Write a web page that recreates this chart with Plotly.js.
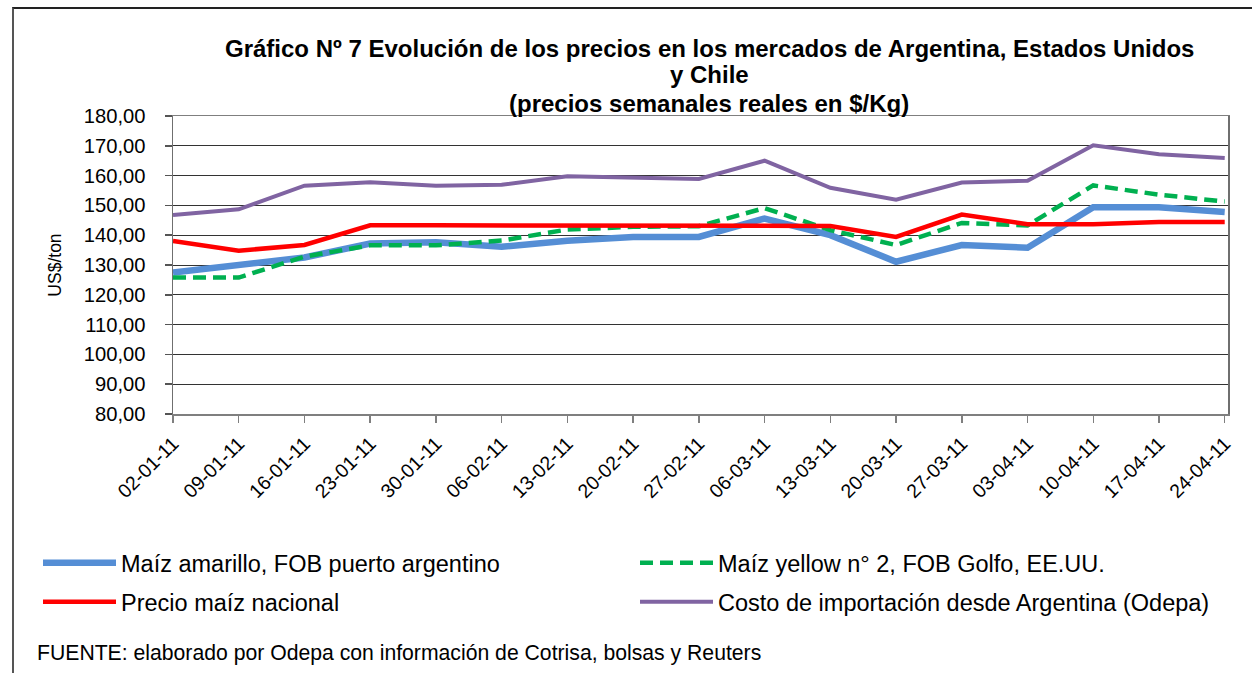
<!DOCTYPE html>
<html>
<head>
<meta charset="utf-8">
<script src="https://cdn.plot.ly/plotly-3.0.1.min.js"></script>
<style>
  html, body { margin: 0; padding: 0; background: #fff; }
  #wrap { position: relative; width: 1252px; height: 673px; }
  #chart { width: 1252px; height: 673px; }
  #frame { position: absolute; left: 12px; top: 7px; right: 0; bottom: 0;
           border-left: 2px solid #555; border-top: 2px solid #222; pointer-events: none; }
</style>
</head>
<body>
<div id="wrap">
  <div id="chart"></div>
  <div id="frame"></div>
</div>
<script>
const fechas = ["02-01-11","09-01-11","16-01-11","23-01-11","30-01-11","06-02-11","13-02-11","20-02-11","27-02-11","06-03-11","13-03-11","20-03-11","27-03-11","03-04-11","10-04-11","17-04-11","24-04-11"];

const maizAmarilloArg = [127.5,129.8,132.5,137.2,137.6,136.1,138.1,139.4,139.4,145.6,140.0,131.1,136.7,135.8,149.4,149.4,147.8];
const maizYellowUSA   = [125.8,125.8,132.8,136.6,136.6,138.2,141.9,142.8,143.0,149.1,141.7,136.7,144.1,143.3,156.7,153.6,151.3];
const precioNacional  = [138.1,134.8,136.7,143.3,143.3,143.3,143.1,143.1,143.1,143.1,143.1,139.4,146.9,143.7,143.7,144.4,144.4];
const costoImportacion= [146.8,148.7,156.6,157.8,156.6,156.9,159.8,159.4,158.9,165.0,155.9,151.9,157.7,158.3,170.2,167.2,165.9];

const nombres = ["Maíz amarillo, FOB puerto argentino","Maíz yellow n° 2, FOB Golfo, EE.UU.","Precio maíz nacional","Costo de importación desde Argentina (Odepa)"];

const tituloLineas = ["Gráfico Nº 7 Evolución de los precios en los mercados de Argentina, Estados Unidos","y Chile","(precios semanales reales en $/Kg)"];
const fuente = "FUENTE: elaborado por Odepa con información de Cotrisa, bolsas y Reuters";

const FONT = "Liberation Sans, Arial, sans-serif";

// plot-area pixel geometry
const L = 173, R = 24, T = 116, B = 259, W = 1252, H = 673;
const PW = W - L - R, PH = H - T - B;
const px = v => (v - L) / PW;
const py = v => (H - B - v) / PH;

const traces = [
  {x: fechas, y: maizAmarilloArg, name: nombres[0], type: "scatter", mode: "lines",
   line: {color: "#558ED5", width: 6.5}, legend: "legend", showlegend: true},
  {x: fechas, y: maizYellowUSA, name: nombres[1], type: "scatter", mode: "lines",
   line: {color: "#00B050", width: 4.5, dash: "13px,7px"}, legend: "legend2", showlegend: true},
  {x: fechas, y: precioNacional, name: nombres[2], type: "scatter", mode: "lines",
   line: {color: "#FF0000", width: 4.5}, legend: "legend3", showlegend: true},
  {x: fechas, y: costoImportacion, name: nombres[3], type: "scatter", mode: "lines",
   line: {color: "#8064A2", width: 4}, legend: "legend4", showlegend: true}
];

function leg(xpx, ypx) {
  return {
    visible: true,
    orientation: "h", itemwidth: 73,
    xanchor: "left", yanchor: "middle", x: px(xpx), y: py(ypx),
    font: {family: FONT, size: 23.5, color: "#000"},
    bgcolor: "rgba(0,0,0,0)"
  };
}

const annotations = [
  {text: "<b>" + tituloLineas[0] + "</b>", y: py(48)},
  {text: "<b>" + tituloLineas[1] + "</b>", y: py(75)},
  {text: "<b>" + tituloLineas[2] + "</b>", y: py(103)}
].map(a => Object.assign(a, {
  xref: "paper", yref: "paper", x: px(709), xanchor: "center", yanchor: "middle",
  showarrow: false, font: {family: FONT, size: 24, color: "#000"}
}));
annotations.push({
  text: fuente, xref: "paper", yref: "paper", x: px(35), y: py(653),
  xanchor: "left", yanchor: "middle", showarrow: false,
  font: {family: FONT, size: 21.2, color: "#000"}
});

const layout = {
  width: W, height: H,
  margin: {l: L, r: R, t: T, b: B},
  paper_bgcolor: "#fff", plot_bgcolor: "#fff",
  font: {family: FONT, color: "#000"},
  separators: ",.",
  showlegend: true,
  xaxis: {
    type: "category", range: [0, 16.05],
    tickangle: -45, tickfont: {family: FONT, size: 19.5, color: "#000"},
    ticks: "outside", ticklen: 7, tickcolor: "#7f7f7f", tickwidth: 1.5, ticklabelstandoff: 2,
    showgrid: false, showline: true, linecolor: "#7f7f7f", linewidth: 1.5, mirror: true,
    zeroline: false
  },
  yaxis: {
    range: [80, 180], dtick: 10, tickformat: ".2f",
    tickfont: {family: FONT, size: 20.2, color: "#000"},
    ticks: "outside", ticklen: 7, tickcolor: "#555", tickwidth: 1.5, ticklabelstandoff: 15,
    showgrid: true, gridcolor: "#333", gridwidth: 1,
    showline: true, linecolor: "#6f6f6f", linewidth: 1.5, mirror: true,
    zeroline: false,
    title: {text: "US$/ton", font: {family: FONT, size: 17.5, color: "#000"}, standoff: 17}
  },
  legend: leg(38, 563),
  legend2: leg(635, 563),
  legend3: leg(38, 602),
  legend4: leg(635, 602),
  annotations: annotations
};

Plotly.newPlot("chart", traces, layout, {displayModeBar: false, staticPlot: true});
</script>
</body>
</html>
